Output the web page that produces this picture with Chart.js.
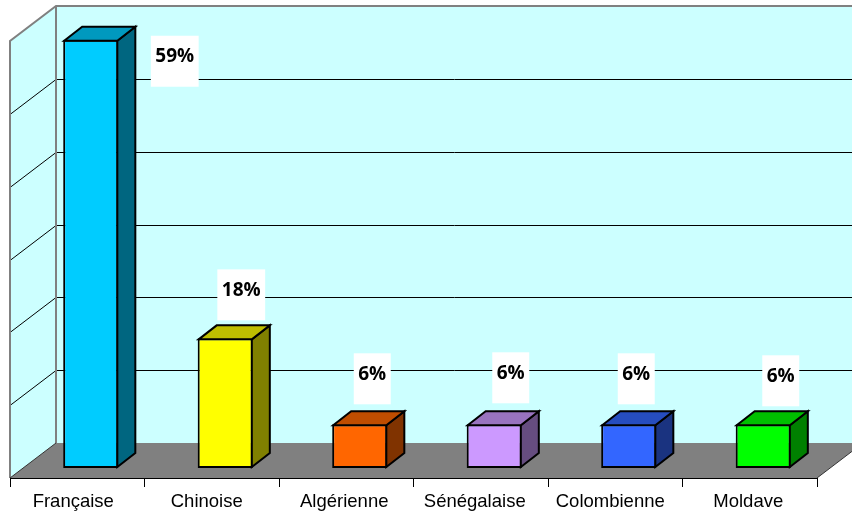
<!DOCTYPE html>
<html><head><meta charset="utf-8">
<style>html,body{margin:0;padding:0;background:#fff}canvas{display:block}</style>
<script src="https://cdn.jsdelivr.net/npm/chart.js@4/dist/chart.umd.min.js"></script>
</head><body><canvas id="c" width="852" height="513"></canvas>
<script>
const categories = ["Française","Chinoise","Algérienne","Sénégalaise","Colombienne","Moldave"];
const values = [58.8,17.8,6,6,6,6];
const valueLabels = ["59%","18%","6%","6%","6%","6%"];
const barColors = ["#00CCFF","#FFFF00","#FF6600","#CC99FF","#3366FF","#00FF00"];
const tickStep = 10;
const axisMax = 60;

// 3D projection of the chart (offsets from the front plane)
const DEPTH = {dx:46, dy:-35};
const BAR_SHIFT = {dx:13.5, dy:-10};
const BAR_DEPTH = {dx:18, dy:-14};
const LABEL_NUDGE = [[84,16],[16,-49],[12.5,-51],[16.5,-52],[7.5,-51],[17.5,-49]];
const TICK_NUDGE = [-4,-5,-2,-6,-5,-1.5];

function shade(hex,f){
  const n=parseInt(hex.slice(1),16);
  return `rgb(${Math.round((n>>16&255)*f)},${Math.round((n>>8&255)*f)},${Math.round((n&255)*f)})`;
}
function poly(ctx,pts,fill,stroke,lw){
  ctx.beginPath();
  pts.forEach((p,i)=>i?ctx.lineTo(p[0],p[1]):ctx.moveTo(p[0],p[1]));
  ctx.closePath();
  if(fill){ctx.fillStyle=fill;ctx.fill();}
  if(stroke){ctx.strokeStyle=stroke;ctx.lineWidth=lw;ctx.lineJoin='miter';ctx.stroke();}
}
const box3d = {
  id:'box3d',
  beforeDatasetsDraw(chart){
    const {ctx,chartArea:a,scales:{y}}=chart;
    const L=a.left,R=a.right,T=a.top,B=a.bottom,dx=DEPTH.dx,dy=DEPTH.dy;
    ctx.save();
    // back wall
    poly(ctx,[[L+dx,T+dy],[R+dx,T+dy],[R+dx,B+dy],[L+dx,B+dy]],'#CCFFFF');
    // left wall
    poly(ctx,[[L,T],[L+dx,T+dy],[L+dx,B+dy],[L,B]],'#CCFFFF');
    // gridlines
    ctx.strokeStyle='#000';ctx.lineWidth=1;
    for(let v=tickStep;v<axisMax;v+=tickStep){
      const py=Math.round(y.getPixelForValue(v))+0.5;
      ctx.beginPath();ctx.moveTo(L,py);ctx.lineTo(L+dx,py+dy);ctx.lineTo(R+dx,py+dy);ctx.stroke();
    }
    // wall outlines
    ctx.strokeStyle='#808080';ctx.lineWidth=2;
    ctx.beginPath();ctx.moveTo(L,B);ctx.lineTo(L,T);ctx.lineTo(L+dx,T+dy);ctx.lineTo(R+dx,T+dy);ctx.stroke();
    ctx.beginPath();ctx.moveTo(L+dx,T+dy);ctx.lineTo(L+dx,B+dy);ctx.stroke();
    // floor
    poly(ctx,[[L,B],[R,B],[R+dx,B+dy],[L+dx,B+dy]],'#808080');
    ctx.strokeStyle='#333';ctx.lineWidth=1;
    ctx.beginPath();ctx.moveTo(L+dx,B+dy);ctx.lineTo(L,B);ctx.stroke();
    ctx.beginPath();ctx.moveTo(R,B);ctx.lineTo(R+dx,B+dy);ctx.stroke();
    ctx.restore();
  },
  beforeDatasetDraw(chart){
    chart.ctx.save();
    chart.ctx.translate(BAR_SHIFT.dx,BAR_SHIFT.dy);
  },
  afterDatasetDraw(chart,args){
    const ctx=chart.ctx;
    const bw=2;
    args.meta.data.forEach((bar,i)=>{
      const l=bar.x-bar.width/2+bw/2,r=bar.x+bar.width/2-bw/2,t=bar.y+bw/2,b=bar.base-bw/2;
      const dx=BAR_DEPTH.dx,dy=BAR_DEPTH.dy,c=barColors[i];
      poly(ctx,[[r,t],[r+dx,t+dy],[r+dx,b+dy],[r,b]],shade(c,0.5),'#000',bw);
      poly(ctx,[[l,t],[l+dx,t+dy],[r+dx,t+dy],[r,t]],shade(c,0.75),'#000',bw);
    });
    ctx.restore();
  },
  afterDatasetsDraw(chart){
    const {ctx,scales:{x}}=chart;
    const meta=chart.getDatasetMeta(0);
    ctx.save();
    ctx.textAlign='center';ctx.textBaseline='middle';
    // value labels on white boxes
    ctx.font='bold 19px "Open Sans"';
    meta.data.forEach((bar,i)=>{
      const cx=bar.x+BAR_SHIFT.dx+LABEL_NUDGE[i][0];
      const cy=bar.y+BAR_SHIFT.dy+LABEL_NUDGE[i][1];
      const w=ctx.measureText(valueLabels[i]).width+9;
      ctx.fillStyle='#fff';ctx.fillRect(cx-w/2,cy-20,w,51);
      ctx.fillStyle='#000';ctx.fillText(valueLabels[i],cx,cy+1);
    });
    // category labels
    ctx.font='18.5px "Liberation Sans"';
    ctx.fillStyle='#000';
    categories.forEach((c,i)=>ctx.fillText(c,x.getPixelForTick(i)+TICK_NUDGE[i],502));
    ctx.restore();
  }
};
new Chart(document.getElementById('c'),{
  type:'bar',
  data:{labels:categories,datasets:[{data:values,backgroundColor:barColors,borderColor:'#000',borderWidth:2,
    borderSkipped:false,barPercentage:0.41,categoryPercentage:1,clip:false}]},
  options:{
    responsive:false,animation:false,
    layout:{padding:{left:10,right:35,top:41,bottom:0}},
    plugins:{legend:{display:false},tooltip:{enabled:false}},
    scales:{
      x:{grid:{offset:true,drawOnChartArea:false,tickLength:9,color:'#000',lineWidth:1},
         border:{color:'#000',width:1},
         ticks:{display:false},
         afterFit(s){s.height=35;}},
      y:{display:false,min:0,max:axisMax,ticks:{stepSize:tickStep}}
    }
  },
  plugins:[box3d]
});
</script></body></html>
